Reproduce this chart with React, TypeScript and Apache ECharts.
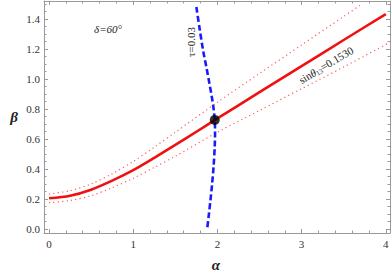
import React, { useEffect, useRef } from "react";
import * as echarts from "echarts";

// ---- data ----
const redAlpha = [0, 0.25, 0.5, 0.75, 1, 1.25, 1.5, 1.75, 2, 2.5, 3, 3.5, 4];
const redBeta = [0.205, 0.222, 0.262, 0.322, 0.392, 0.474, 0.56, 0.648, 0.737, 0.912, 1.086, 1.26, 1.433];

const upperAlpha = [0, 0.25, 0.5, 0.75, 1, 1.25, 1.5, 2, 2.5, 3, 3.5, 3.72];
const upperBeta = [0.233, 0.255, 0.3, 0.368, 0.45, 0.545, 0.645, 0.845, 1.037, 1.227, 1.417, 1.5];

const lowerAlpha = [0, 0.25, 0.5, 0.75, 1, 1.25, 1.5, 2, 2.5, 3, 3.5, 4.05];
const lowerBeta = [0.175, 0.19, 0.222, 0.275, 0.338, 0.41, 0.485, 0.645, 0.79, 0.935, 1.08, 1.245];

const blueAlpha = [1.75, 1.79, 1.83, 1.87, 1.905, 1.935, 1.955, 1.968, 1.972, 1.968, 1.955, 1.937, 1.917, 1.897, 1.877];
const blueBeta = [1.48, 1.33, 1.19, 1.075, 0.97, 0.875, 0.8, 0.727, 0.65, 0.55, 0.42, 0.3, 0.19, 0.09, -0.005];

const dotPoint = [1.968, 0.727];

const xMajor = [0, 1, 2, 3, 4];
const xMinor = [0.2, 0.4, 0.6, 0.8, 1.2, 1.4, 1.6, 1.8, 2.2, 2.4, 2.6, 2.8, 3.2, 3.4, 3.6, 3.8];
const yMajor = [0, 0.2, 0.4, 0.6, 0.8, 1.0, 1.2, 1.4];
const yMinor = [0.05, 0.1, 0.15, 0.25, 0.3, 0.35, 0.45, 0.5, 0.55, 0.65, 0.7, 0.75, 0.85, 0.9, 0.95, 1.05, 1.1, 1.15, 1.25, 1.3, 1.35, 1.45, 1.5];

const X_MIN = -0.06;
const X_MAX = 4.05;
const Y_MIN = -0.027;
const Y_MAX = 1.52;

const zip = (a: number[], b: number[]) => a.map((v, i) => [v, b[i]]);

const FRAME = "#9a9a9a";
const SERIF = "'Liberation Serif', 'DejaVu Serif', serif";

function xAxisDef(position: "top" | "bottom", values: number[], len: number, withLabel: boolean, withLine: boolean) {
  return {
    type: "value",
    position,
    min: X_MIN,
    max: X_MAX,
    splitLine: { show: false },
    axisLine: { show: withLine, onZero: false, lineStyle: { color: FRAME, width: 1 } },
    axisTick: { show: true, inside: true, length: len, customValues: values, lineStyle: { color: FRAME, width: 1 } },
    axisLabel: {
      show: withLabel,
      customValues: values,
      margin: 5,
      color: "#333",
      fontFamily: SERIF,
      fontSize: 11,
      formatter: (v: number) => String(Math.round(v)),
    },
  };
}

function yAxisDef(position: "left" | "right", values: number[], len: number, withLabel: boolean, withLine: boolean) {
  return {
    type: "value",
    position,
    min: Y_MIN,
    max: Y_MAX,
    splitLine: { show: false },
    axisLine: { show: withLine, onZero: false, lineStyle: { color: FRAME, width: 1 } },
    axisTick: { show: true, inside: true, length: len, customValues: values, lineStyle: { color: FRAME, width: 1 } },
    axisLabel: {
      show: withLabel,
      customValues: values,
      margin: 4,
      color: "#333",
      fontFamily: SERIF,
      fontSize: 11,
      formatter: (v: number) => v.toFixed(1),
    },
  };
}

export default function App() {
  const ref = useRef<HTMLDivElement>(null);
  useEffect(() => {
    if (!ref.current) return;
    const chart = echarts.init(ref.current, undefined, { renderer: "svg" });
    const option: any = {
      animation: false,
      backgroundColor: "#ffffff",
      grid: { left: 44, right: 2, top: 1, bottom: 40, containLabel: false },
      xAxis: [
        xAxisDef("bottom", xMajor, 4, true, true),
        xAxisDef("bottom", xMinor, 2.5, false, false),
        xAxisDef("top", xMajor, 4, false, true),
        xAxisDef("top", xMinor, 2.5, false, false),
      ],
      yAxis: [
        yAxisDef("left", yMajor, 4, true, true),
        yAxisDef("left", yMinor, 2.5, false, false),
        yAxisDef("right", yMajor, 4, false, true),
        yAxisDef("right", yMinor, 2.5, false, false),
      ],
      series: [
        {
          type: "line",
          data: zip(upperAlpha, upperBeta),
          smooth: 0.3,
          symbol: "none",
          lineStyle: { color: "#ff5a5a", width: 1.2, type: [1.2, 3.2] },
        },
        {
          type: "line",
          data: zip(lowerAlpha, lowerBeta),
          smooth: 0.3,
          symbol: "none",
          lineStyle: { color: "#ff5a5a", width: 1.2, type: [1.2, 3.2] },
        },
        {
          type: "line",
          data: zip(redAlpha, redBeta),
          smooth: 0.3,
          symbol: "none",
          lineStyle: { color: "#f01010", width: 2.6 },
        },
        {
          type: "line",
          data: zip(blueAlpha, blueBeta),
          smooth: 0.3,
          symbol: "none",
          lineStyle: { color: "#1a1aff", width: 2.6, type: [6, 3] },
        },
        {
          type: "scatter",
          data: [dotPoint],
          symbolSize: 10,
          itemStyle: { color: "#000" },
          z: 5,
        },
      ],
      graphic: [
        {
          type: "text",
          x: 108,
          y: 29,
          style: {
            text: "δ=60°",
            fontFamily: SERIF,
            fontStyle: "italic",
            fontSize: 11,
            fill: "#222",
            align: "center",
            verticalAlign: "middle",
          },
        },
        {
          type: "text",
          x: 191,
          y: 42,
          rotation: Math.PI / 2,
          style: {
            text: "τ=0.03",
            fontFamily: SERIF,
            fontSize: 11,
            fill: "#222",
            align: "center",
            verticalAlign: "middle",
          },
        },
        {
          type: "text",
          x: 326,
          y: 65,
          rotation: (31 * Math.PI) / 180,
          style: {
            text: "{a|sin}{b|θ}{c|13}{a|=0.1530}",
            fontFamily: SERIF,
            fontSize: 11,
            fill: "#222",
            align: "center",
            verticalAlign: "middle",
            rich: {
              a: { fontFamily: SERIF, fontSize: 11, fill: "#222" },
              b: { fontFamily: SERIF, fontSize: 11, fontStyle: "italic", fill: "#222" },
              c: { fontFamily: SERIF, fontSize: 7, fill: "#222", padding: [6, 0, 0, 0] },
            },
          },
        },
        {
          type: "text",
          x: 216,
          y: 265,
          style: {
            text: "α",
            fontFamily: SERIF,
            fontStyle: "italic",
            fontWeight: "bold",
            fontSize: 15,
            fill: "#222",
            align: "center",
            verticalAlign: "middle",
          },
        },
        {
          type: "text",
          x: 14,
          y: 117,
          style: {
            text: "β",
            fontFamily: SERIF,
            fontStyle: "italic",
            fontWeight: "bold",
            fontSize: 15,
            fill: "#222",
            align: "center",
            verticalAlign: "middle",
          },
        },
      ],
    };
    chart.setOption(option);
    return () => chart.dispose();
  }, []);
  return <div ref={ref} style={{ width: 392, height: 273, position: "absolute", left: 0, top: 0 }} />;
}
